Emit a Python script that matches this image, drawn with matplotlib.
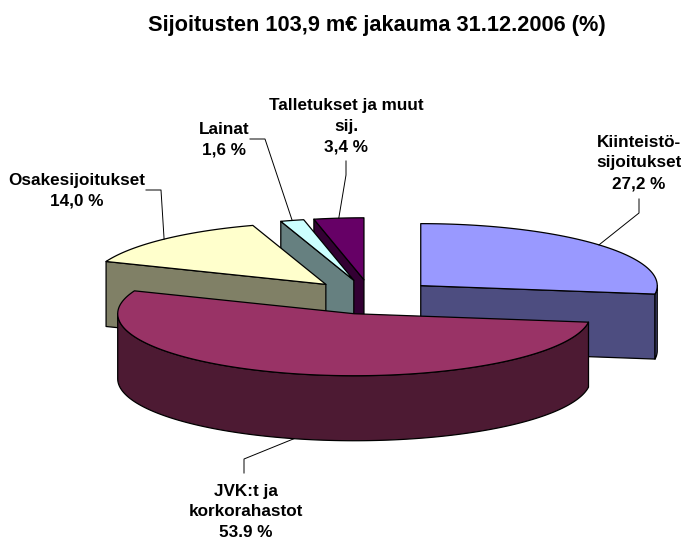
"""Sijoitusten jakauma: exploded 3D-look pie drawn from the slice percentages."""
import matplotlib as mpl
import matplotlib.pyplot as plt
import numpy as np
from matplotlib.patches import Polygon

mpl.rcParams.update({"font.family": ["Liberation Sans", "DejaVu Sans"],
                     "font.weight": "bold"})

# slice values, clockwise from 12 o'clock
labels = ["Kiinteistö-\nsijoitukset\n27,2 %", "JVK:t ja\nkorkorahastot\n53.9 %",
          "Osakesijoitukset\n14,0 %", "Lainat\n1,6 %",
          "Talletukset ja muut\nsij.\n3,4 %"]
values = [27.2, 53.9, 14.0, 1.6, 3.4]
top_colors = ["#9999FF", "#993366", "#FFFFCC", "#CCFFFF", "#660066"]
wall_colors = ["#4D4D80", "#4D1A33", "#808066", "#668080", "#330033"]
title = "Sijoitusten 103,9 m€ jakauma 31.12.2006 (%)"

# label placement (pixels) and leader elbow for each slice
label_xy = [(639, 163), (246, 512), (76.5, 191), (224, 140), (346.5, 126)]
elbows = [[(639, 199), (639, 213)], [(244, 473), (244, 459)],
          [(146, 190), (161, 190)], [(250, 139), (265, 139)],
          [(346, 161), (346, 175)]]

# pie geometry in pixels
X0, Y0 = 371.0, 297.0
RX, RY = 236.5, 62.0
EXPLODE = 66.0
DEPTH = 65.0

fractions = np.array(values) / sum(values)
edges = np.concatenate([[0], np.cumsum(fractions)]) * 2 * np.pi


def rim(cx, cy, theta):
    return np.column_stack([cx + RX * np.sin(theta), cy - RY * np.cos(theta)])


fig = plt.figure(figsize=(6.81, 5.4), dpi=100)
ax = fig.add_axes([0, 0, 1, 1])
ax.set_xlim(0, 681)
ax.set_ylim(540, 0)
ax.axis("off")

centers = []
for i in range(len(values)):
    mid = (edges[i] + edges[i + 1]) / 2
    centers.append((X0 + EXPLODE * np.sin(mid), Y0 - EXPLODE * RY / RX * np.cos(mid)))

# back slices first, JVK last because it sits in front of everything
for i in [4, 3, 2, 0, 1]:
    a0, a1 = edges[i], edges[i + 1]
    cx, cy = centers[i]
    kw = dict(edgecolor="black", linewidth=0.9, joinstyle="round")

    # radial cut faces, only those turned towards the viewer
    for ang, show in [(a0, np.sin(a0) < -1e-6), (a1, np.sin(a1) > 1e-6)]:
        if show:
            p = rim(cx, cy, np.array([ang]))[0]
            ax.add_patch(Polygon([(cx, cy), p, (p[0], p[1] + DEPTH), (cx, cy + DEPTH)],
                                 facecolor=wall_colors[i], **kw))

    # outer rim wall on the front half of the ellipse
    lo, hi = max(a0, np.pi / 2), min(a1, 3 * np.pi / 2)
    if hi > lo:
        pts = rim(cx, cy, np.linspace(lo, hi, 120))
        low = pts + [0, DEPTH]
        ax.add_patch(Polygon(np.vstack([pts, low[::-1]]),
                             facecolor=wall_colors[i], **kw))

    # top surface
    pts = rim(cx, cy, np.linspace(a0, a1, 160))
    ax.add_patch(Polygon(np.vstack([[(cx, cy)], pts]),
                         facecolor=top_colors[i], **kw))

# leader lines end on the rim at the slice's middle angle
for i in range(len(values)):
    mid = (edges[i] + edges[i + 1]) / 2
    cx, cy = centers[i]
    end = rim(cx, cy, np.array([mid]))[0]
    if np.cos(mid) < 0:
        end = end + [0, DEPTH]
    path = np.vstack([elbows[i], [end]])
    ax.plot(path[:, 0], path[:, 1], color="black", linewidth=0.7, zorder=5)
    ax.text(label_xy[i][0], label_xy[i][1], labels[i], fontsize=12.3,
            ha="center", va="center", linespacing=1.47, zorder=6)

ax.text(377, 26, title, fontsize=15.7, ha="center", va="center")

fig.savefig("out.png", dpi=100)
plt.close()
